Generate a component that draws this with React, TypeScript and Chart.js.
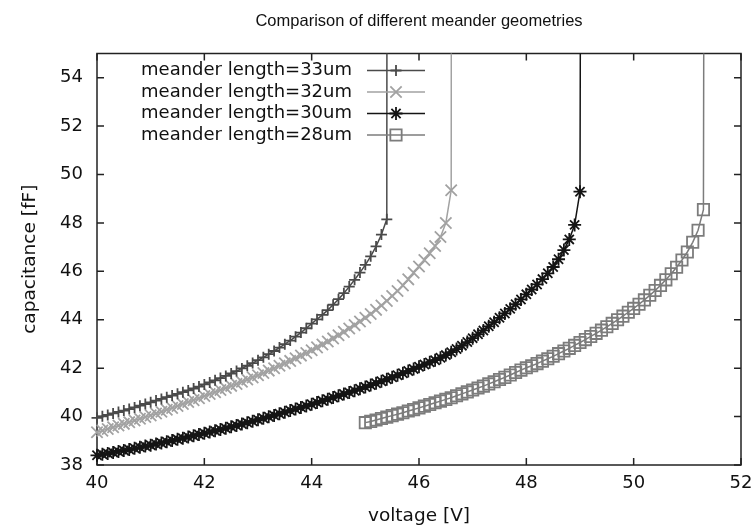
import React, { useEffect, useRef } from "react";
import { Chart, registerables } from "chart.js";

Chart.register(...registerables);

// ---- data ----
const chartTitle = "Comparison of different meander geometries";
const xAxisTitle = "voltage [V]";
const yAxisTitle = "capacitance [fF]";

const seriesLabels = [
  "meander length=33um",
  "meander length=32um",
  "meander length=30um",
  "meander length=28um",
];

// voltage sampling grid [V]
const voltageGrid = [
  40.0, 40.1, 40.2, 40.3, 40.4, 40.5, 40.6, 40.7, 40.8, 40.9,
  41.0, 41.1, 41.2, 41.3, 41.4, 41.5, 41.6, 41.7, 41.8, 41.9,
  42.0, 42.1, 42.2, 42.3, 42.4, 42.5, 42.6, 42.7, 42.8, 42.9,
  43.0, 43.1, 43.2, 43.3, 43.4, 43.5, 43.6, 43.7, 43.8, 43.9,
  44.0, 44.1, 44.2, 44.3, 44.4, 44.5, 44.6, 44.7, 44.8, 44.9,
  45.0, 45.1, 45.2, 45.3, 45.4, 45.5, 45.6, 45.7, 45.8, 45.9,
  46.0, 46.1, 46.2, 46.3, 46.4, 46.5, 46.6, 46.7, 46.8, 46.9,
  47.0, 47.1, 47.2, 47.3, 47.4, 47.5, 47.6, 47.7, 47.8, 47.9,
  48.0, 48.1, 48.2, 48.3, 48.4, 48.5, 48.6, 48.7, 48.8, 48.9,
  49.0, 49.1, 49.2, 49.3, 49.4, 49.5, 49.6, 49.7, 49.8, 49.9,
  50.0, 50.1, 50.2, 50.3, 50.4, 50.5, 50.6, 50.7, 50.8, 50.9,
  51.0, 51.1, 51.2, 51.3,
];

// index of the first grid voltage used by each series
const seriesStartIndex = [0, 0, 0, 50];

// capacitance [fF]
const cap33 = [
  39.95, 40.01, 40.07, 40.13, 40.19, 40.25, 40.31, 40.38, 40.45, 40.52,
  40.59, 40.66, 40.73, 40.8, 40.87, 40.94, 41.01, 41.08, 41.16, 41.24,
  41.33, 41.41, 41.5, 41.59, 41.68, 41.78, 41.88, 41.99, 42.1, 42.21,
  42.33, 42.45, 42.58, 42.71, 42.85, 42.99, 43.14, 43.3, 43.47, 43.65,
  43.84, 44.02, 44.2, 44.4, 44.62, 44.85, 45.1, 45.37, 45.65, 45.95,
  46.27, 46.62, 47.03, 47.52, 48.15,
];
const cap32 = [
  39.35, 39.42, 39.49, 39.56, 39.63, 39.7, 39.77, 39.84, 39.91, 39.98,
  40.05, 40.13, 40.2, 40.28, 40.36, 40.44, 40.52, 40.6, 40.68, 40.76,
  40.85, 40.93, 41.01, 41.1, 41.18, 41.27, 41.35, 41.44, 41.53, 41.62,
  41.71, 41.8, 41.9, 42.0, 42.1, 42.2, 42.3, 42.41, 42.52, 42.63,
  42.74, 42.86, 42.98, 43.1, 43.23, 43.36, 43.5, 43.64, 43.78, 43.93,
  44.08, 44.24, 44.41, 44.59, 44.78, 44.98, 45.19, 45.42, 45.67, 45.94,
  46.2, 46.47, 46.75, 47.05, 47.42, 48.0, 49.35,
];
const cap30 = [
  38.4, 38.44, 38.48, 38.52, 38.56, 38.6, 38.64, 38.69, 38.73, 38.78,
  38.82, 38.87, 38.91, 38.96, 39.01, 39.06, 39.11, 39.16, 39.21, 39.26,
  39.31, 39.36, 39.41, 39.47, 39.52, 39.58, 39.63, 39.69, 39.75, 39.81,
  39.87, 39.93, 39.99, 40.05, 40.12, 40.18, 40.25, 40.31, 40.38, 40.44,
  40.51, 40.58, 40.65, 40.72, 40.79, 40.86, 40.93, 41.0, 41.07, 41.15,
  41.22, 41.3, 41.38, 41.46, 41.54, 41.62, 41.71, 41.79, 41.88, 41.97,
  42.06, 42.15, 42.24, 42.33, 42.43, 42.54, 42.66, 42.79, 42.93, 43.08,
  43.24, 43.4, 43.56, 43.73, 43.9, 44.08, 44.26, 44.45, 44.64, 44.84,
  45.05, 45.25, 45.46, 45.68, 45.92, 46.18, 46.5, 46.88, 47.32, 47.92,
  49.29,
];
const cap28 = [
  39.75, 39.8, 39.86, 39.92, 39.98, 40.04, 40.1, 40.16, 40.23, 40.29,
  40.36, 40.43, 40.5, 40.57, 40.64, 40.71, 40.78, 40.86, 40.94, 41.02,
  41.1, 41.18, 41.26, 41.35, 41.44, 41.53, 41.62, 41.72, 41.82, 41.92,
  42.02, 42.1, 42.19, 42.29, 42.39, 42.49, 42.6, 42.71, 42.82, 42.94,
  43.06, 43.18, 43.31, 43.44, 43.57, 43.71, 43.85, 44.0, 44.15, 44.31,
  44.47, 44.64, 44.82, 45.01, 45.21, 45.42, 45.65, 45.9, 46.17, 46.47,
  46.8, 47.2, 47.7, 48.55,
];
const seriesCaps = [cap33, cap32, cap30, cap28];

// pull-in: the curve shoots up (far beyond the plotted range) at these voltages
const pullInVoltage = [45.42, 46.62, 49.07, 51.36];
const pullInCapacitance = [120, 120, 120, 120];

const xTicks = { min: 40, max: 52, step: 2 };
const yTicks = { min: 38, max: 55, step: 2 };

// ---- styling ----
const seriesColors = ["#4a4a4a", "#a2a2a2", "#141414", "#7c7c7c"];
const seriesPointStyles = ["cross", "crossRot", "star", "rect"];
const seriesPointRadius = [5.5, 8, 6.5, 8];
const FONT = "'DejaVu Sans', 'Liberation Sans', sans-serif";
const TITLE_FONT = "'Liberation Sans', Arial, sans-serif";
const TEXT_COLOR = "#111111";

function drawMarker(ctx: CanvasRenderingContext2D, style: string, x: number, y: number, r: number) {
  const d = r * Math.SQRT1_2;
  ctx.beginPath();
  if (style === "cross" || style === "star") {
    ctx.moveTo(x - r, y);
    ctx.lineTo(x + r, y);
    ctx.moveTo(x, y - r);
    ctx.lineTo(x, y + r);
  }
  if (style === "crossRot" || style === "star") {
    ctx.moveTo(x - d, y - d);
    ctx.lineTo(x + d, y + d);
    ctx.moveTo(x + d, y - d);
    ctx.lineTo(x - d, y + d);
  }
  if (style === "rect") {
    ctx.rect(x - d, y - d, 2 * d, 2 * d);
  }
  ctx.stroke();
}

const decorPlugin = {
  id: "gnuplotDecor",
  beforeDatasetsDraw(chart: any) {
    const { ctx, chartArea } = chart;
    const { left, right, top, bottom } = chartArea;
    ctx.save();
    ctx.strokeStyle = "#222222";
    ctx.lineWidth = 1.5;
    ctx.strokeRect(left, top, right - left, bottom - top);
    const tickLen = 7;
    ctx.beginPath();
    chart.scales.x.ticks.forEach((t: any) => {
      const px = chart.scales.x.getPixelForValue(t.value);
      ctx.moveTo(px, bottom);
      ctx.lineTo(px, bottom - tickLen);
      ctx.moveTo(px, top);
      ctx.lineTo(px, top + tickLen);
    });
    chart.scales.y.ticks.forEach((t: any) => {
      const py = chart.scales.y.getPixelForValue(t.value);
      ctx.moveTo(left, py);
      ctx.lineTo(left + tickLen, py);
      ctx.moveTo(right, py);
      ctx.lineTo(right - tickLen, py);
    });
    ctx.stroke();
    ctx.restore();
  },
  afterDraw(chart: any) {
    const { ctx, chartArea } = chart;
    ctx.save();
    // title
    ctx.fillStyle = TEXT_COLOR;
    ctx.font = `16.5px ${TITLE_FONT}`;
    ctx.textAlign = "center";
    ctx.textBaseline = "middle";
    ctx.fillText(chartTitle, (chartArea.left + chartArea.right) / 2, 21);
    // legend (inside plot, top-left, key to the right of the text)
    ctx.font = `18px ${FONT}`;
    const textRight = 352;
    const lineFrom = 367;
    const lineTo = 425;
    const rowY0 = 70.5;
    const rowStep = 21.5;
    chart.data.datasets.forEach((ds: any, i: number) => {
      const y = rowY0 + i * rowStep;
      ctx.fillStyle = TEXT_COLOR;
      ctx.textAlign = "right";
      ctx.fillText(ds.label, textRight, y);
      ctx.strokeStyle = seriesColors[i];
      ctx.lineWidth = 1.5;
      ctx.beginPath();
      ctx.moveTo(lineFrom, y);
      ctx.lineTo(lineTo, y);
      ctx.stroke();
      ctx.lineWidth = 1.8;
      drawMarker(ctx, seriesPointStyles[i], (lineFrom + lineTo) / 2, y, seriesPointRadius[i]);
    });
    ctx.restore();
  },
};

export default function App() {
  const canvasRef = useRef<HTMLCanvasElement | null>(null);

  useEffect(() => {
    const canvas = canvasRef.current;
    if (!canvas) return;

    const datasets = seriesLabels.map((label, i) => {
      const caps = seriesCaps[i];
      const start = seriesStartIndex[i];
      const pts = caps.map((c, k) => ({ x: voltageGrid[start + k], y: c }));
      pts.push({ x: pullInVoltage[i], y: pullInCapacitance[i] });
      const lastIdx = pts.length - 1;
      return {
        label,
        data: pts,
        borderColor: seriesColors[i],
        backgroundColor: "rgba(0,0,0,0)",
        borderWidth: 1.5,
        pointStyle: seriesPointStyles[i],
        pointRadius: (c: any) => (c.dataIndex === lastIdx ? 0 : seriesPointRadius[i]),
        pointHoverRadius: seriesPointRadius[i],
        pointBorderWidth: 1.8,
        pointBorderColor: seriesColors[i],
        pointBackgroundColor: "rgba(0,0,0,0)",
        tension: 0,
        fill: false,
        clip: { left: 12, top: 0, right: 0, bottom: 12 },
      };
    });

    const chart = new Chart(canvas, {
      type: "line",
      data: { datasets } as any,
      plugins: [decorPlugin],
      options: {
        animation: false,
        responsive: false,
        maintainAspectRatio: false,
        devicePixelRatio: 1,
        layout: { padding: { top: 53.5, right: 12, bottom: 0, left: 0 } },
        plugins: {
          legend: { display: false },
          title: { display: false },
          tooltip: { enabled: false },
        },
        scales: {
          x: {
            type: "linear",
            min: xTicks.min,
            max: xTicks.max,
            grid: { display: false, drawTicks: false },
            border: { display: false },
            ticks: {
              stepSize: xTicks.step,
              includeBounds: false,
              padding: 8,
              color: TEXT_COLOR,
              font: { family: FONT, size: 18 },
            },
            title: {
              display: true,
              text: xAxisTitle,
              color: TEXT_COLOR,
              font: { family: FONT, size: 18.5 },
              padding: { top: 0, bottom: 3 },
            },
            afterFit: (s: any) => {
              s.height = 65;
              s.paddingLeft = 0;
              s.paddingRight = 0;
            },
          },
          y: {
            type: "linear",
            min: yTicks.min,
            max: yTicks.max,
            grid: { display: false, drawTicks: false },
            border: { display: false },
            ticks: {
              stepSize: yTicks.step,
              includeBounds: false,
              padding: 14,
              color: TEXT_COLOR,
              font: { family: FONT, size: 18 },
            },
            title: {
              display: true,
              text: yAxisTitle,
              color: TEXT_COLOR,
              font: { family: FONT, size: 18.5 },
              padding: { top: 19, bottom: 0 },
            },
            afterFit: (s: any) => {
              s.width = 97;
              s.paddingTop = 0;
              s.paddingBottom = 0;
            },
          },
        },
      } as any,
    });

    return () => chart.destroy();
  }, []);

  return (
    <div style={{ position: "absolute", left: 0, top: 0, width: 753, height: 530, background: "#ffffff" }}>
      <canvas ref={canvasRef} width={753} height={530} style={{ width: 753, height: 530, display: "block" }} />
    </div>
  );
}
